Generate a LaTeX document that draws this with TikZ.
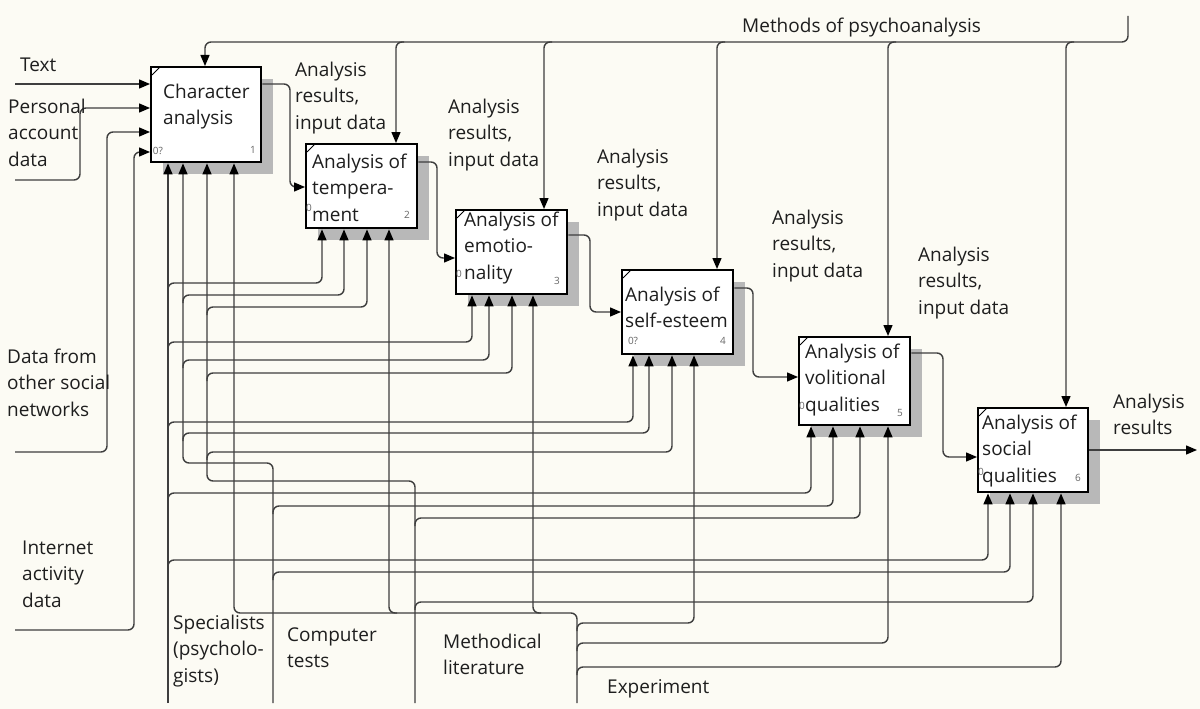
\documentclass[tikz,border=0pt]{standalone}
\usepackage{fontspec}
\setmainfont{Open Sans}
\usetikzlibrary{arrows.meta,shadows}
\definecolor{paper}{RGB}{252,251,244}
\definecolor{linec}{RGB}{62,62,62}
\definecolor{txtc}{RGB}{30,30,30}
\newcommand\lblfont{\fontsize{19}{26.5}\selectfont}
\tikzset{
  conn/.style={draw=linec, line width=1.4pt, rounded corners=6pt},
  arr/.style={conn, -{Triangle[length=11pt,width=9pt,color=black]}},
  fbox/.style={draw=black, line width=2.4pt, fill=white, anchor=north west, inner sep=0pt,
    drop shadow={shadow xshift=12pt, shadow yshift=-12pt, fill=black!28, opacity=1}},
  lbl/.style={anchor=north west, inner sep=0pt, align=left, font=\lblfont, text=txtc},
  tinynum/.style={inner sep=0pt, font=\fontsize{10}{12}\selectfont, text=black!60},
  tick/.style={draw=black, line width=1pt},
}
\begin{document}
\begin{tikzpicture}[x=1pt, y=-1pt]
\useasboundingbox[fill=paper] (0,0) rectangle (1200,709);

% activity boxes
\node[fbox, minimum width=110pt, minimum height=95pt] (b1) at (150,66) {};
\node[fbox, minimum width=111pt, minimum height=84pt] (b2) at (305,143) {};
\node[fbox, minimum width=111pt, minimum height=84pt] (b3) at (455,209) {};
\node[fbox, minimum width=111pt, minimum height=84pt] (b4) at (621,269) {};
\node[fbox, minimum width=111pt, minimum height=88pt] (b5) at (798,336) {};
\node[fbox, minimum width=110pt, minimum height=84pt] (b6) at (977,407) {};

% corner ticks
\foreach \b in {b1,b2,b3,b4,b5,b6}
  \draw[tick] ([xshift=2pt,yshift=-9pt]\b.north west) -- ([xshift=10pt,yshift=-1pt]\b.north west);

% free ends of the boundary arrows
\coordinate (srcText) at (15,84);
\coordinate (srcPers) at (15,180);
\coordinate (srcData) at (15,452);
\coordinate (srcNet) at (15,630);
\coordinate (srcSpec) at (168,703);
\coordinate (srcComp) at (273,703);
\coordinate (srcMeth) at (415,703);
\coordinate (srcExp) at (577,703);
\coordinate (srcCtl) at (1128,16);
\coordinate (outEnd) at (1197,450);

% inputs of box 1
\draw[arr] (srcText) -- (b1.west |- 0,84);
\draw[arr] (srcPers) -- (80,180) -- (80,108) -- (b1.west |- 0,108);
\draw[arr] (srcData) -- (107,452) -- (107,132) -- (b1.west |- 0,132);
\draw[arr] (srcNet) -- (134,630) -- (134,152) -- (b1.west |- 0,152);

% outputs feeding the next box
\draw[arr] (b1.east |- 0,84) -- (290,84) -- (290,187) -- (b2.west |- 0,187);
\draw[arr] (b2.east |- 0,162) -- (437,162) -- (437,258) -- (b3.west |- 0,258);
\draw[arr] (b3.east |- 0,235) -- (590,235) -- (590,312) -- (b4.west |- 0,312);
\draw[arr] (b4.east |- 0,288) -- (753,288) -- (753,377) -- (b5.west |- 0,377);
\draw[arr] (b5.east |- 0,353) -- (943,353) -- (943,457) -- (b6.west |- 0,457);
\draw[arr] (b6.east |- 0,450) -- (outEnd);

% control: methods of psychoanalysis
\draw[arr] (srcCtl) -- (1128,42) -- (205,42) -- (205,0 |- b1.north);
\foreach \cx/\bx in {396/b2,544/b3,717/b4,888/b5,1066/b6}
  \draw[arr] (\cx+8,42) -- (\cx,42) -- (\cx,0 |- \bx.north);

% mechanisms: trunks into box 1
\draw[arr] (srcSpec) -- (168,0 |- b1.south);
\draw[arr] (srcComp) -- (273,463) -- (183,463) -- (183,0 |- b1.south);
\draw[arr] (srcMeth) -- (415,481) -- (207,481) -- (207,0 |- b1.south);
\draw[arr] (srcExp) -- (577,613) -- (234,613) -- (234,0 |- b1.south);

% mechanisms: branches rising from a trunk
\foreach \lx/\ly/\ax/\bx in {
    168/283/322/b2, 168/342/472/b3, 168/422/633/b4, 168/493/811/b5, 168/560/988/b6,
    183/295/344/b2, 183/360/489/b3, 183/433/649/b4, 273/506/833/b5, 273/572/1010/b6,
    207/307/367/b2, 207/373/512/b3, 207/452/672/b4, 415/518/860/b5, 415/602/1033/b6,
    577/623/694/b4, 577/643/888/b5, 577/667/1061/b6}
  \draw[arr] (\lx,\ly+8) -- (\lx,\ly) -- (\ax,\ly) -- (\ax,0 |- \bx.south);
\foreach \ax/\bx in {389/b2,533/b3}
  \draw[arr] (\ax+8,613) -- (\ax,613) -- (\ax,0 |- \bx.south);

% box texts
\node[lbl] (t1) at (163,79.5) {\strut Character\\analysis};
\node[lbl] (t2) at (312,149.5) {\strut Analysis of\\tempera-\\ment};
\node[lbl] (t3) at (464,207.5) {\strut Analysis of\\emotio-\\nality};
\node[lbl] (t4) at (625,282.5) {\strut Analysis of\\self-esteem};
\node[lbl] (t5) at (805,339.5) {\strut Analysis of\\volitional\\qualities};
\node[lbl] (t6) at (982,410.5) {\strut Analysis of\\social\\qualities};

% box numbers
\node[tinynum] (z1) at (158,151) {0?};
\node[tinynum] (z2) at (309,208) {0};
\node[tinynum] (z3) at (459,274) {0};
\node[tinynum] (z4) at (633,341) {0?};
\node[tinynum] (z5) at (802,406) {0};
\node[tinynum] (z6) at (981,472) {0};
\node[tinynum] (n1) at (253,150) {1};
\node[tinynum] (n2) at (407,215) {2};
\node[tinynum] (n3) at (557,281) {3};
\node[tinynum] (n4) at (723,341) {4};
\node[tinynum] (n5) at (900,413) {5};
\node[tinynum] (n6) at (1078,478) {6};

% arrow labels
\node[lbl] (lText) at (20,52.5) {\strut Text};
\node[lbl] (lPers) at (8,94.5) {\strut Personal\\account\\data};
\node[lbl] (lData) at (7,344.5) {\strut Data from\\other social\\networks};
\node[lbl] (lNet) at (22,535.5) {\strut Internet\\activity\\data};
\node[lbl] (lSpec) at (173,610.5) {\strut Specialists\\(psycholo-\\gists)};
\node[lbl] (lComp) at (287,622.5) {\strut Computer\\tests};
\node[lbl] (lMeth) at (443,629.5) {\strut Methodical\\literature};
\node[lbl] (lExp) at (607,674.5) {\strut Experiment};
\node[lbl] (lCtl) at (742,13.5) {\strut Methods of psychoanalysis};
\node[lbl] (r1) at (295,57.5) {\strut Analysis\\results,\\input data};
\node[lbl] (r2) at (448,94.5) {\strut Analysis\\results,\\input data};
\node[lbl] (r3) at (597,144.5) {\strut Analysis\\results,\\input data};
\node[lbl] (r4) at (772,205.5) {\strut Analysis\\results,\\input data};
\node[lbl] (r5) at (918,242.5) {\strut Analysis\\results,\\input data};
\node[lbl] (rOut) at (1113,389.5) {\strut Analysis\\results};
\end{tikzpicture}
\end{document}
